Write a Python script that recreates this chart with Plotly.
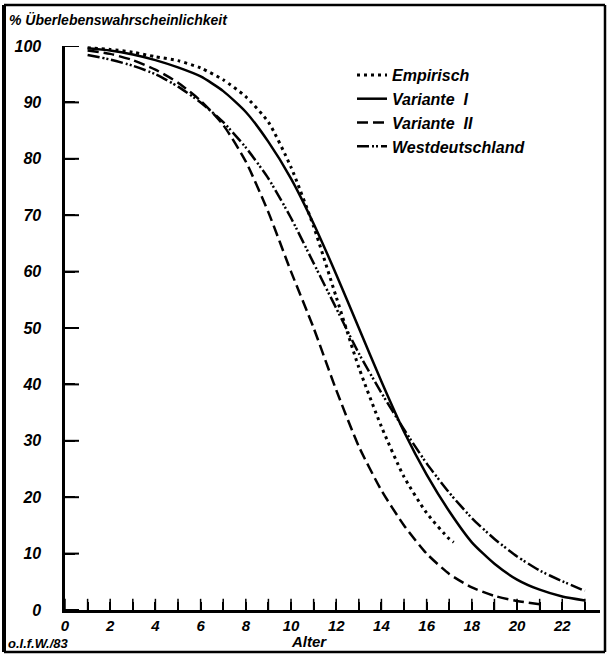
import plotly.graph_objects as go

# ---- data ----
ages_emp = [1, 2, 3, 4, 5, 6, 7, 8, 9, 10, 11, 12, 13, 14, 15, 16, 17, 17.2]
empirisch = [99.7, 99.4, 98.9, 98.1, 97.4, 96.1, 94.0, 91.0, 86.5, 78.5, 68.0, 55.5, 43.0, 32.5, 23.6, 17.2, 12.6, 12.0]

ages_v1 = [1, 2, 3, 4, 5, 6, 7, 8, 9, 10, 11, 12, 13, 14, 15, 16, 17, 18, 19, 20, 21, 22, 23]
variante_1 = [99.6, 99.2, 98.5, 97.5, 96.2, 94.6, 92.0, 88.3, 83.0, 76.5, 68.5, 59.5, 50.0, 40.5,
              31.6, 24.0, 17.5, 12.0, 8.2, 5.4, 3.6, 2.4, 1.7]

ages_v2 = [1, 2, 3, 4, 5, 6, 7, 8, 9, 10, 11, 12, 13, 14, 15, 16, 17, 18, 19, 20, 21]
variante_2 = [99.2, 98.6, 97.5, 95.8, 93.5, 90.3, 86.0, 79.5, 70.5, 60.0, 50.0, 39.0, 29.0, 21.2,
              15.0, 10.0, 6.4, 4.0, 2.5, 1.6, 1.0]

ages_wd = [1, 2, 3, 4, 5, 6, 7, 8, 9, 10, 11, 12, 13, 14, 15, 16, 17, 18, 19, 20, 21, 22, 23]
westdeutschland = [98.4, 97.6, 96.5, 95.0, 92.8, 90.0, 86.5, 82.0, 76.5, 69.5, 61.5, 53.5, 45.5, 38.5,
                   32.0, 26.0, 20.8, 16.3, 12.6, 9.5, 7.0, 5.1, 3.4]

x_ticks = list(range(0, 24))
x_ticklabels = ["<b><i>%d</i></b>" % v if v % 2 == 0 else "" for v in x_ticks]
y_ticks = list(range(0, 101, 10))
y_ticklabels = ["<b><i>%d</i></b>\u00a0\u00a0\u00a0\u00a0" % v for v in y_ticks]

FONT = "Liberation Sans, Arial, sans-serif"
W, H = 608, 657
ML, MR, MT, MB = 65, 8, 46, 47
PW, PH = W - ML - MR, H - MT - MB


def px(x):
    return (x - ML) / PW


def py(y):
    return (H - MB - y) / PH


fig = go.Figure()
fig.add_trace(go.Scatter(x=ages_emp, y=empirisch, mode="lines", name="Empirisch",
                         line=dict(color="black", width=3, dash="3px,4px", shape="spline", smoothing=0.6)))
fig.add_trace(go.Scatter(x=ages_v1, y=variante_1, mode="lines", name="Variante  I",
                         line=dict(color="black", width=2.5, shape="spline", smoothing=0.6)))
fig.add_trace(go.Scatter(x=ages_v2, y=variante_2, mode="lines", name="Variante  II",
                         line=dict(color="black", width=2.5, dash="11px,5px", shape="spline", smoothing=0.6)))
fig.add_trace(go.Scatter(x=ages_wd, y=westdeutschland, mode="lines", name="Westdeutschland",
                         line=dict(color="black", width=2.5, dash="12px,3px,2px,2px,2px,3px",
                                   shape="spline", smoothing=0.6)))

# tick marks drawn at the tick positions (clipped to the plot area so only the inner half shows)
fig.add_trace(go.Scatter(x=x_ticks, y=[y_ticks[0]] * len(x_ticks), mode="markers", showlegend=False,
                         hoverinfo="skip", cliponaxis=True,
                         marker=dict(symbol="line-ns", size=16, color="black",
                                     line=dict(width=1.5, color="black"))))
fig.add_trace(go.Scatter(x=[x_ticks[0]] * len(y_ticks), y=y_ticks, mode="markers", showlegend=False,
                         hoverinfo="skip", cliponaxis=True,
                         marker=dict(symbol="line-ew", size=20, color="black",
                                     line=dict(width=2, color="black"))))

fig.update_layout(
    width=W, height=H,
    margin=dict(l=ML, r=MR, t=MT, b=MB),
    paper_bgcolor="white", plot_bgcolor="white",
    showlegend=True,
    legend=dict(x=px(352), y=py(58), xanchor="left", yanchor="top",
                bgcolor="rgba(0,0,0,0)", borderwidth=0,
                font=dict(family=FONT, size=16, color="black", weight="bold", style="italic"),
                tracegroupgap=0),
    xaxis=dict(range=[0, 23.67], tickmode="array", tickvals=x_ticks, ticktext=x_ticklabels,
               ticks="inside", ticklen=8, tickwidth=1.5, tickcolor="black",
               showline=True, linewidth=2.5, linecolor="black",
               showgrid=False, zeroline=False,
               tickfont=dict(family=FONT, size=15, color="black")),
    yaxis=dict(range=[0, 100], tickmode="array", tickvals=y_ticks, ticktext=y_ticklabels,
               ticks="inside", ticklen=10, tickwidth=2, tickcolor="black",
               showline=True, linewidth=2.5, linecolor="black",
               showgrid=False, zeroline=False,
               tickfont=dict(family=FONT, size=16, color="black")),
)

# title, axis label and source note
fig.add_annotation(text="% Überlebenswahrscheinlichkeit", xref="paper", yref="paper",
                   x=px(7), y=py(20), xanchor="left", yanchor="middle", showarrow=False,
                   font=dict(family=FONT, size=14, color="black", weight="bold", style="italic"))
fig.add_annotation(text="Alter", xref="paper", yref="paper",
                   x=px(309), y=py(641), xanchor="center", yanchor="middle", showarrow=False,
                   font=dict(family=FONT, size=15, color="black", weight="bold", style="italic"))
fig.add_annotation(text="o.I.f.W./83", xref="paper", yref="paper",
                   x=px(6), y=py(643), xanchor="left", yanchor="middle", showarrow=False,
                   font=dict(family=FONT, size=13, color="black", weight="bold", style="italic"))

# outer frame
frame = dict(color="black", width=2.5)
fig.add_shape(type="line", xref="paper", yref="paper", x0=px(4), x1=px(605), y0=py(5), y1=py(5), line=frame)
fig.add_shape(type="line", xref="paper", yref="paper", x0=px(4), x1=px(605), y0=py(652), y1=py(652), line=frame)
fig.add_shape(type="line", xref="paper", yref="paper", x0=px(4), x1=px(4), y0=py(652), y1=py(5),
              line=dict(color="black", width=4))
fig.add_shape(type="line", xref="paper", yref="paper", x0=px(605), x1=px(605), y0=py(652), y1=py(5), line=frame)

fig.write_html("out.html", config={"displayModeBar": False},
               post_script="document.body.style.margin='0px';")
